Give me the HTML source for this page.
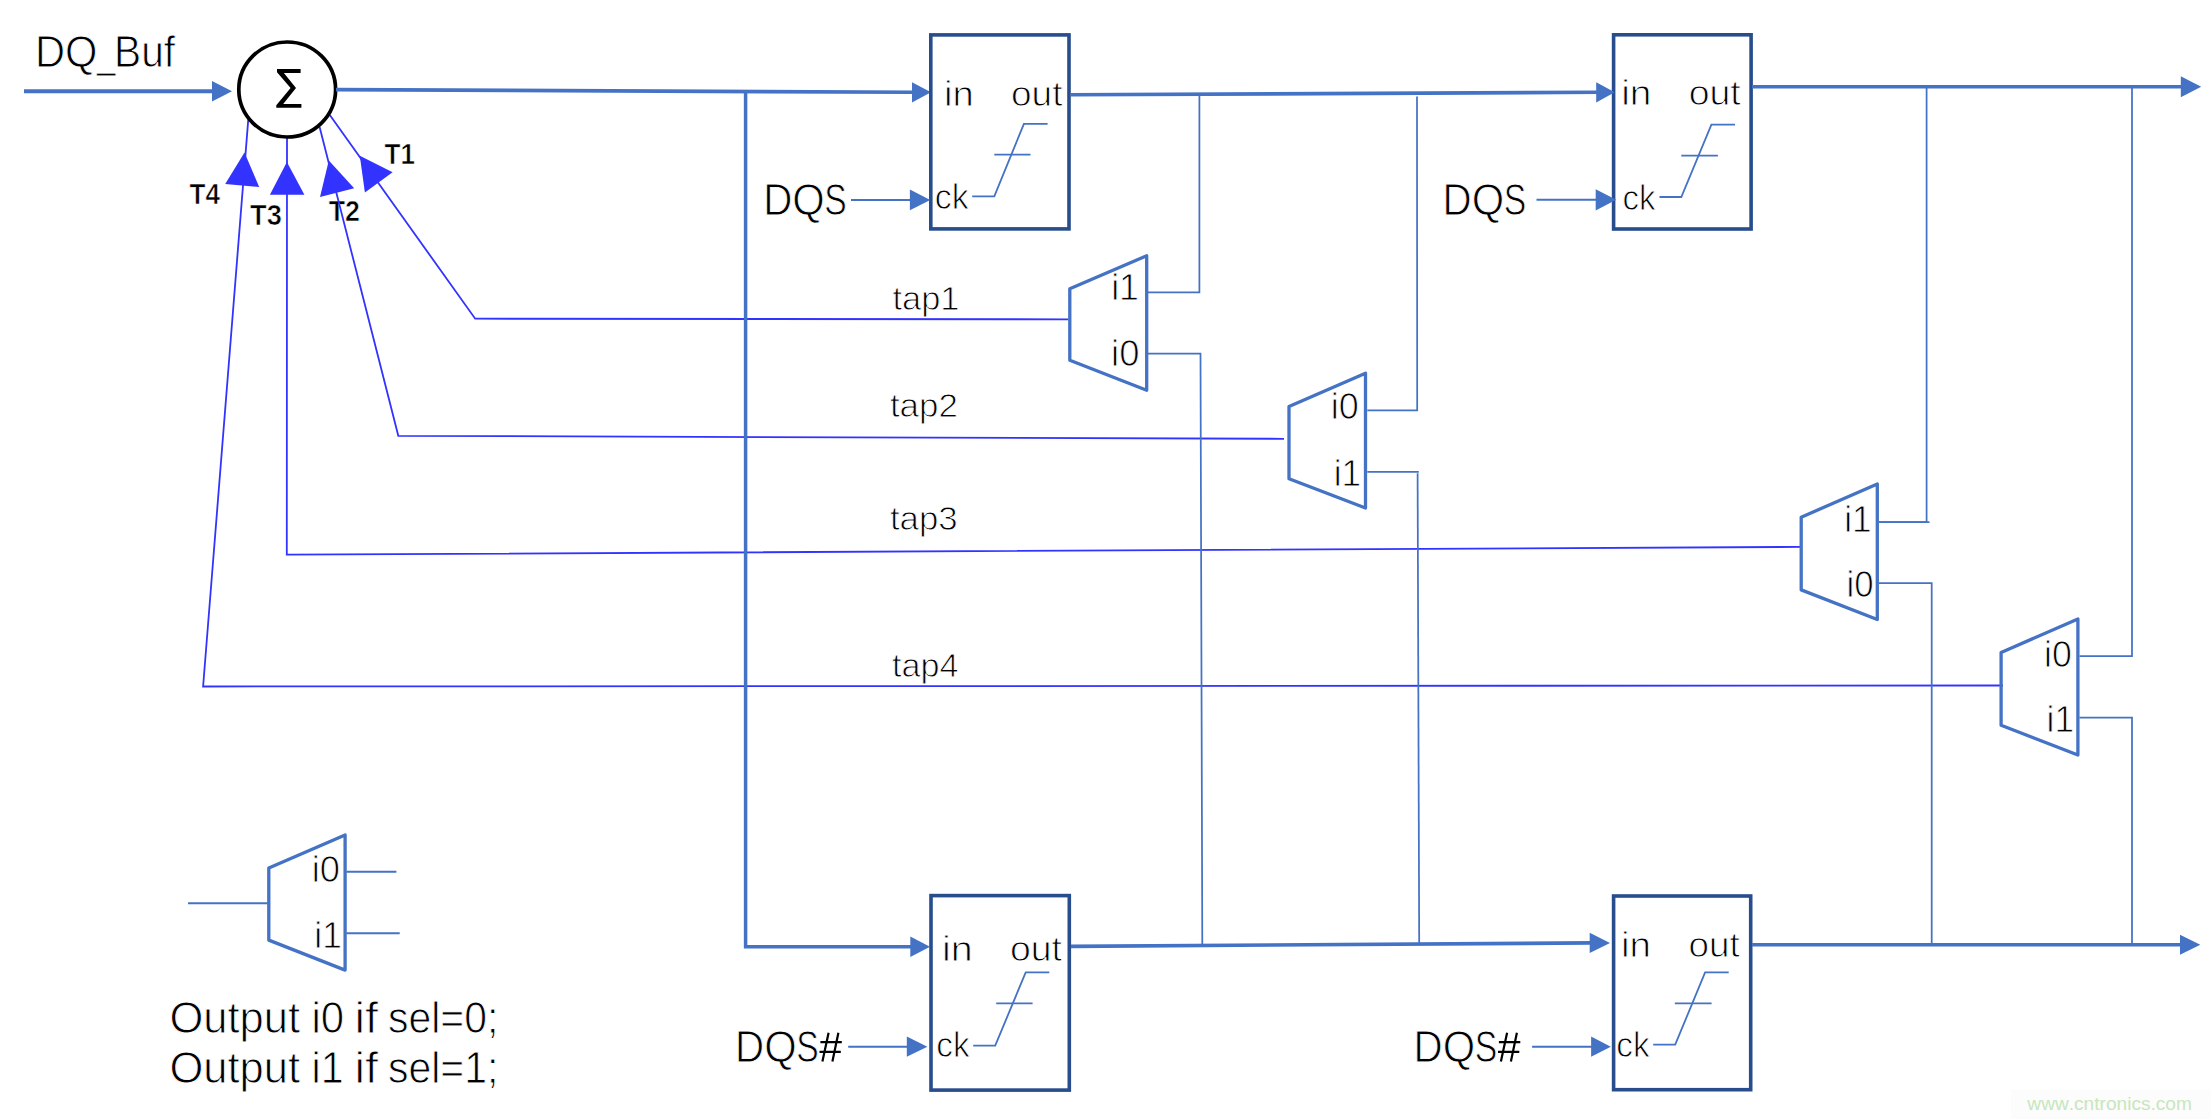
<!DOCTYPE html>
<html><head><meta charset="utf-8"><style>
html,body{margin:0;padding:0;background:#fff;}
svg{display:block;}
text{font-family:"Liberation Sans",sans-serif;font-kerning:none;}
</style></head><body>
<svg width="2211" height="1119" viewBox="0 0 2211 1119">
<rect width="2211" height="1119" fill="#fff"/>
<line x1="24" y1="91.2" x2="214" y2="91.2" stroke="#4472C4" stroke-width="4"/>
<polygon points="212,80.9 232,91.2 212,101.5" fill="#4472C4"/>
<text transform="translate(34.93 67.00) scale(0.9493 1)" font-size="43.90" fill="#000" stroke="#fff" stroke-width="0.9">DQ</text>
<text transform="translate(96.95 67.00) scale(0.7547 1)" font-size="43.90" fill="#000" stroke="#fff" stroke-width="0.9">_</text>
<text transform="translate(114.01 67.00) scale(0.9269 1)" font-size="43.90" fill="#000" stroke="#fff" stroke-width="0.9">Buf</text>
<text transform="translate(384.61 163.70) scale(0.9051 1)" font-size="28.80" font-weight="bold" fill="#000" stroke="#fff" stroke-width="0.6">T1</text>
<text transform="translate(328.70 221.40) scale(0.9305 1)" font-size="28.80" font-weight="bold" fill="#000" stroke="#fff" stroke-width="0.6">T2</text>
<text transform="translate(250.09 225.30) scale(0.9459 1)" font-size="28.80" font-weight="bold" fill="#000" stroke="#fff" stroke-width="0.6">T3</text>
<text transform="translate(189.61 203.80) scale(0.9055 1)" font-size="28.80" font-weight="bold" fill="#000" stroke="#fff" stroke-width="0.6">T4</text>
<polyline points="329.8,115 475.2,318.7 1068.4,319.3" fill="none" stroke="#3333FF" stroke-width="1.8" stroke-linejoin="miter"/>
<polyline points="319.6,127 398.3,435.8 1284,438.8" fill="none" stroke="#3333FF" stroke-width="1.8" stroke-linejoin="miter"/>
<polyline points="287,138 286.8,554.7 1802,546.9" fill="none" stroke="#3333FF" stroke-width="1.8" stroke-linejoin="miter"/>
<polyline points="248.4,117.9 203.1,686.5 2003,685.5" fill="none" stroke="#3333FF" stroke-width="1.8" stroke-linejoin="miter"/>
<polygon points="359.8,155.8 364.9,192.5 392.6,172.2" fill="#3333FF"/>
<polygon points="328.8,160.5 320,197.1 354.2,188.3" fill="#3333FF"/>
<polygon points="286.9,162 269.9,194.8 304.4,194.8" fill="#3333FF"/>
<polygon points="244.5,152.4 225.2,184 259.2,186.9" fill="#3333FF"/>
<ellipse cx="287.2" cy="89.5" rx="48.4" ry="47.5" fill="#fff" stroke="#000" stroke-width="3.7"/>
<polygon points="277,69.1 300.6,69.1 300.6,73 283.9,73 296,88 283.2,104 301.4,104 301.4,107.7 276.3,107.7 276.3,105.2 290.6,88 277,72.3" fill="#000"/>
<line x1="336" y1="89.6" x2="914" y2="92.3" stroke="#4472C4" stroke-width="3.6"/>
<polygon points="912,82.2 931,92.3 912,102.39999999999999" fill="#4472C4"/>
<polyline points="745.6,92.5 745.6,946.8 912,946.8" fill="none" stroke="#4472C4" stroke-width="3.5" stroke-linejoin="miter"/>
<polygon points="910.3,936.55 930,946.8 910.3,957.05" fill="#4472C4"/>
<rect x="930.8" y="34.9" width="138.2" height="194" fill="none" stroke="#284D8D" stroke-width="3.6"/>
<rect x="1613.6" y="34.8" width="137.5" height="194.2" fill="none" stroke="#284D8D" stroke-width="3.6"/>
<rect x="931" y="895.6" width="138.3" height="194.5" fill="none" stroke="#284D8D" stroke-width="3.6"/>
<rect x="1613.6" y="896" width="137.1" height="193.7" fill="none" stroke="#284D8D" stroke-width="3.6"/>
<polyline points="972.2,196.3 994.3,196.3 1023.9,123.9 1047.6,123.9" fill="none" stroke="#4472C4" stroke-width="1.8" stroke-linejoin="miter"/>
<line x1="994.3" y1="154.7" x2="1030.5" y2="154.7" stroke="#4472C4" stroke-width="1.8"/>
<polyline points="1659.5,197 1681.3,197 1711.4,124.6 1735,124.6" fill="none" stroke="#4472C4" stroke-width="1.8" stroke-linejoin="miter"/>
<line x1="1681.3" y1="155.7" x2="1717.9" y2="155.7" stroke="#4472C4" stroke-width="1.8"/>
<polyline points="973.2,1045.7 995.2,1045.7 1025.7,972.4 1049.3,972.4" fill="none" stroke="#4472C4" stroke-width="1.8" stroke-linejoin="miter"/>
<line x1="996.2" y1="1003.3" x2="1032.6" y2="1003.3" stroke="#4472C4" stroke-width="1.8"/>
<polyline points="1653.2,1044.7 1675.2,1044.7 1705.1,972.4 1728.7,972.4" fill="none" stroke="#4472C4" stroke-width="1.8" stroke-linejoin="miter"/>
<line x1="1674.8" y1="1003.3" x2="1711.6" y2="1003.3" stroke="#4472C4" stroke-width="1.8"/>
<text transform="translate(943.99 106.20) scale(1.1074 1)" font-size="34.50" fill="#000" stroke="#fff" stroke-width="0.9">in</text>
<text transform="translate(1011.00 106.20) scale(1.0722 1)" font-size="34.50" fill="#000" stroke="#fff" stroke-width="0.9">out</text>
<text transform="translate(934.71 208.80) scale(0.9823 1)" font-size="34.50" fill="#000" stroke="#fff" stroke-width="0.9">ck</text>
<text transform="translate(1621.25 104.90) scale(1.1254 1)" font-size="34.50" fill="#000" stroke="#fff" stroke-width="0.9">in</text>
<text transform="translate(1688.68 104.90) scale(1.0852 1)" font-size="34.50" fill="#000" stroke="#fff" stroke-width="0.9">out</text>
<text transform="translate(1622.45 209.80) scale(0.9581 1)" font-size="34.50" fill="#000" stroke="#fff" stroke-width="0.9">ck</text>
<text transform="translate(942.01 961.00) scale(1.1433 1)" font-size="34.50" fill="#000" stroke="#fff" stroke-width="0.9">in</text>
<text transform="translate(1009.88 961.00) scale(1.0830 1)" font-size="34.50" fill="#000" stroke="#fff" stroke-width="0.9">out</text>
<text transform="translate(936.33 1056.80) scale(0.9672 1)" font-size="34.50" fill="#000" stroke="#fff" stroke-width="0.9">ck</text>
<text transform="translate(1621.07 956.50) scale(1.1164 1)" font-size="34.50" fill="#000" stroke="#fff" stroke-width="0.9">in</text>
<text transform="translate(1688.60 956.50) scale(1.0679 1)" font-size="34.50" fill="#000" stroke="#fff" stroke-width="0.9">out</text>
<text transform="translate(1616.33 1056.80) scale(0.9672 1)" font-size="34.50" fill="#000" stroke="#fff" stroke-width="0.9">ck</text>
<text transform="translate(763.14 215.30) scale(0.9213 1)" font-size="43.80" fill="#000" stroke="#fff" stroke-width="0.9">D</text>
<text transform="translate(792.27 215.30) scale(0.9532 1)" font-size="43.80" fill="#000" stroke="#fff" stroke-width="0.9">Q</text>
<text transform="translate(824.32 215.30) scale(0.7694 1)" font-size="43.80" fill="#000" stroke="#fff" stroke-width="0.9">S</text>
<text transform="translate(1442.54 214.80) scale(0.9213 1)" font-size="43.80" fill="#000" stroke="#fff" stroke-width="0.9">D</text>
<text transform="translate(1471.67 214.80) scale(0.9532 1)" font-size="43.80" fill="#000" stroke="#fff" stroke-width="0.9">Q</text>
<text transform="translate(1503.72 214.80) scale(0.7694 1)" font-size="43.80" fill="#000" stroke="#fff" stroke-width="0.9">S</text>
<text transform="translate(735.04 1062.00) scale(0.9213 1)" font-size="43.80" fill="#000" stroke="#fff" stroke-width="0.9">D</text>
<text transform="translate(764.17 1062.00) scale(0.9532 1)" font-size="43.80" fill="#000" stroke="#fff" stroke-width="0.9">Q</text>
<text transform="translate(796.22 1062.00) scale(0.7694 1)" font-size="43.80" fill="#000" stroke="#fff" stroke-width="0.9">S</text>
<path d="M828.6,1032.7 L822.4,1061.5 M838.4,1032.7 L832.4,1061.5 M820.4,1042.2 H841.8 M819.5,1051.8 H840.8" stroke="#000" stroke-width="2.2" fill="none"/>
<text transform="translate(1413.54 1062.00) scale(0.9213 1)" font-size="43.80" fill="#000" stroke="#fff" stroke-width="0.9">D</text>
<text transform="translate(1442.67 1062.00) scale(0.9532 1)" font-size="43.80" fill="#000" stroke="#fff" stroke-width="0.9">Q</text>
<text transform="translate(1474.72 1062.00) scale(0.7694 1)" font-size="43.80" fill="#000" stroke="#fff" stroke-width="0.9">S</text>
<path d="M1507.1,1032.7 L1500.9,1061.5 M1516.9,1032.7 L1510.9,1061.5 M1498.9,1042.2 H1520.3 M1498.0,1051.8 H1519.3" stroke="#000" stroke-width="2.2" fill="none"/>
<line x1="851" y1="199.9" x2="912" y2="199.9" stroke="#4472C4" stroke-width="2"/>
<polygon points="909.9,189.5 930.3,199.9 909.9,210.3" fill="#4472C4"/>
<line x1="1536.5" y1="199.8" x2="1598" y2="199.8" stroke="#4472C4" stroke-width="2"/>
<polygon points="1595.7,189.20000000000002 1616.2,199.8 1595.7,210.4" fill="#4472C4"/>
<line x1="848.2" y1="1046.7" x2="909" y2="1046.7" stroke="#4472C4" stroke-width="2"/>
<polygon points="906.8,1036.6000000000001 927.4,1046.7 906.8,1056.8" fill="#4472C4"/>
<line x1="1532.1" y1="1046.7" x2="1593" y2="1046.7" stroke="#4472C4" stroke-width="2"/>
<polygon points="1591.1,1036.6000000000001 1610.8,1046.7 1591.1,1056.8" fill="#4472C4"/>
<line x1="1071" y1="94.8" x2="1598" y2="92.3" stroke="#4472C4" stroke-width="3.6"/>
<polygon points="1596.2,82.2 1614.7,92.3 1596.2,102.39999999999999" fill="#4472C4"/>
<line x1="1752" y1="86.8" x2="2182" y2="86.8" stroke="#4472C4" stroke-width="3.6"/>
<polygon points="2180.7999999999997,76.3 2201.2,86.8 2180.7999999999997,97.3" fill="#4472C4"/>
<line x1="1071" y1="946.4" x2="1592" y2="942.9" stroke="#4472C4" stroke-width="3.6"/>
<polygon points="1589.7,932.6999999999999 1610,942.9 1589.7,953.1" fill="#4472C4"/>
<line x1="1752" y1="944.7" x2="2182" y2="944.7" stroke="#4472C4" stroke-width="3.6"/>
<polygon points="2180.0,934.6500000000001 2200.3,944.7 2180.0,954.75" fill="#4472C4"/>
<polyline points="1199.4,95 1199.4,292.4 1147.4,292.4" fill="none" stroke="#4472C4" stroke-width="1.75" stroke-linejoin="miter"/>
<polyline points="1147.4,353.6 1200.5,353.6 1202.3,944.3" fill="none" stroke="#4472C4" stroke-width="1.75" stroke-linejoin="miter"/>
<polyline points="1417,96.6 1417.2,410.3 1367.3,410.3" fill="none" stroke="#4472C4" stroke-width="1.75" stroke-linejoin="miter"/>
<polyline points="1367.3,471.8 1418.8,471.8" fill="none" stroke="#4472C4" stroke-width="1.75" stroke-linejoin="miter"/>
<line x1="1417.6" y1="473.2" x2="1419.2" y2="943" stroke="#4472C4" stroke-width="1.75"/>
<polyline points="1926.6,87 1926.6,522.2 1879,522.2" fill="none" stroke="#4472C4" stroke-width="1.75" stroke-linejoin="miter"/>
<line x1="1879" y1="522.2" x2="1929.5" y2="522.2" stroke="#4472C4" stroke-width="1.75"/>
<polyline points="1879,583 1931.7,583 1931.7,944.7" fill="none" stroke="#4472C4" stroke-width="1.75" stroke-linejoin="miter"/>
<polyline points="2132,87 2132,656.2 2079.5,656.2" fill="none" stroke="#4472C4" stroke-width="1.75" stroke-linejoin="miter"/>
<polyline points="2079.5,717.7 2132,717.7 2132,944.7" fill="none" stroke="#4472C4" stroke-width="1.75" stroke-linejoin="miter"/>
<polygon points="1069.8,288.8 1146.7,255.8 1146.7,390.3 1069.8,360.3" fill="none" stroke="#4472C4" stroke-width="3.3" stroke-linejoin="round"/>
<polygon points="1289,406.5 1365.5,373.2 1365.5,508 1289,478.7" fill="none" stroke="#4472C4" stroke-width="3.3" stroke-linejoin="round"/>
<polygon points="1801.2,517.2 1877.3,484 1877.3,619.5 1801.2,589.9" fill="none" stroke="#4472C4" stroke-width="3.3" stroke-linejoin="round"/>
<polygon points="2001.1,652.4 2077.9,619 2077.9,755 2001.1,725.3" fill="none" stroke="#4472C4" stroke-width="3.3" stroke-linejoin="round"/>
<polygon points="268.8,868 345.1,835 345.1,970.1 268.8,940.1" fill="none" stroke="#4472C4" stroke-width="3.3" stroke-linejoin="round"/>
<text transform="translate(1111.16 300.20) scale(0.9513 1)" font-size="37.60" fill="#000" stroke="#fff" stroke-width="0.9">i1</text>
<text transform="translate(1111.11 365.70) scale(0.9691 1)" font-size="37.60" fill="#000" stroke="#fff" stroke-width="0.9">i0</text>
<text transform="translate(1330.84 418.60) scale(0.9572 1)" font-size="37.60" fill="#000" stroke="#fff" stroke-width="0.9">i0</text>
<text transform="translate(1333.80 485.80) scale(0.9352 1)" font-size="37.60" fill="#000" stroke="#fff" stroke-width="0.9">i1</text>
<text transform="translate(1844.20 531.80) scale(0.9352 1)" font-size="37.60" fill="#000" stroke="#fff" stroke-width="0.9">i1</text>
<text transform="translate(1846.62 596.60) scale(0.9256 1)" font-size="37.60" fill="#000" stroke="#fff" stroke-width="0.9">i0</text>
<text transform="translate(2043.96 666.50) scale(0.9493 1)" font-size="37.60" fill="#000" stroke="#fff" stroke-width="0.9">i0</text>
<text transform="translate(2046.59 732.20) scale(0.9392 1)" font-size="37.60" fill="#000" stroke="#fff" stroke-width="0.9">i1</text>
<text transform="translate(311.72 882.00) scale(0.9652 1)" font-size="37.60" fill="#000" stroke="#fff" stroke-width="0.9">i0</text>
<text transform="translate(314.29 947.60) scale(0.9392 1)" font-size="37.60" fill="#000" stroke="#fff" stroke-width="0.9">i1</text>
<text transform="translate(892.43 310.30) scale(1.0201 1)" font-size="33.80" fill="#000" stroke="#fff" stroke-width="0.9">tap1</text>
<text transform="translate(889.92 417.10) scale(1.0335 1)" font-size="33.80" fill="#000" stroke="#fff" stroke-width="0.9">tap2</text>
<text transform="translate(889.92 530.00) scale(1.0300 1)" font-size="33.80" fill="#000" stroke="#fff" stroke-width="0.9">tap3</text>
<text transform="translate(891.93 677.10) scale(1.0127 1)" font-size="33.80" fill="#000" stroke="#fff" stroke-width="0.9">tap4</text>
<line x1="188" y1="903.3" x2="267.6" y2="903.3" stroke="#4472C4" stroke-width="2"/>
<line x1="346.4" y1="871.8" x2="396.4" y2="871.8" stroke="#4472C4" stroke-width="2"/>
<line x1="346.4" y1="933.3" x2="399.7" y2="933.3" stroke="#4472C4" stroke-width="2"/>
<text transform="translate(169.39 1032.60) scale(0.9924 1)" font-size="43.90" fill="#000" stroke="#fff" stroke-width="0.9">Output</text>
<text transform="translate(311.54 1032.60) scale(0.9554 1)" font-size="43.90" fill="#000" stroke="#fff" stroke-width="0.9">i0</text>
<text transform="translate(354.59 1032.60) scale(1.0746 1)" font-size="43.90" fill="#000" stroke="#fff" stroke-width="0.9">if</text>
<text transform="translate(388.01 1032.60) scale(0.9320 1)" font-size="43.90" fill="#000" stroke="#fff" stroke-width="0.9">sel=0;</text>
<text transform="translate(169.39 1082.60) scale(0.9924 1)" font-size="43.90" fill="#000" stroke="#fff" stroke-width="0.9">Output</text>
<text transform="translate(311.59 1082.60) scale(0.9385 1)" font-size="43.90" fill="#000" stroke="#fff" stroke-width="0.9">i1</text>
<text transform="translate(354.59 1082.60) scale(1.0746 1)" font-size="43.90" fill="#000" stroke="#fff" stroke-width="0.9">if</text>
<text transform="translate(388.01 1082.60) scale(0.9320 1)" font-size="43.90" fill="#000" stroke="#fff" stroke-width="0.9">sel=1;</text>
<rect x="2011" y="1089.5" width="200" height="30" fill="#FCFCFC"/>
<text transform="translate(2027.33 1109.60) scale(1.0339 1)" font-size="18.50" fill="#C8E6BC">www.cntronics.com</text>
</svg>
</body></html>
